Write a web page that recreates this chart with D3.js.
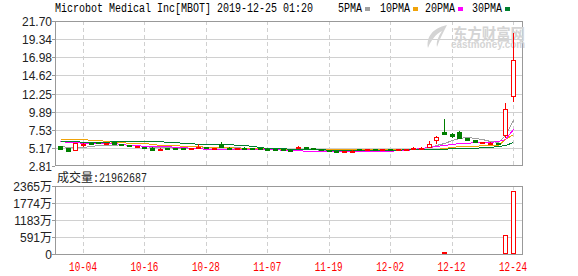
<!DOCTYPE html>
<html>
<head>
<meta charset="utf-8">
<script src="https://cdn.jsdelivr.net/npm/d3@7"></script>
<style>
body { margin: 0; background: #fff; }
svg { display: block; }
</style>
</head>
<body>
<div id="container"></div>
<script>
// trading days Oct 1 - Dec 24, 2019
var dates = ["10-01","10-02","10-03","10-04","10-07","10-08","10-09","10-10","10-11","10-14",
  "10-15","10-16","10-17","10-18","10-21","10-22","10-23","10-24","10-25","10-28",
  "10-29","10-30","10-31","11-01","11-04","11-05","11-06","11-07","11-08","11-11",
  "11-12","11-13","11-14","11-15","11-18","11-19","11-20","11-21","11-22","11-25",
  "11-26","11-27","11-29","12-02","12-03","12-04","12-05","12-06","12-09","12-10",
  "12-11","12-12","12-13","12-16","12-17","12-18","12-19","12-20","12-23","12-24"]
var open  = [5.40,5.10,4.80,5.58,5.75,5.92,5.80,5.98,5.70,5.55, 5.35,5.32,5.22,5.00,5.10,5.15,5.20,5.12,5.25,5.25,
             5.12,5.70,5.22,5.18,5.20,5.12,5.10,5.08,5.05,5.02, 4.95,5.15,5.25,5.15,5.02,4.90,4.75,4.70,4.80,5.02,
             4.98,5.00,4.97,4.99,4.96,4.98,5.00,5.02,5.20,6.15, 7.20,7.00,7.28,6.40,6.20,5.80,5.78,5.80,6.85,11.97]
var high  = [5.45,5.12,5.80,5.85,5.80,5.95,5.85,6.00,5.72,5.60, 5.45,5.35,5.25,5.10,5.15,5.18,5.22,5.18,5.70,5.28,
             5.20,5.90,5.26,5.22,5.24,5.15,5.13,5.10,5.08,5.05, 4.97,5.45,5.28,5.18,5.05,4.92,4.78,4.75,4.85,5.05,
             5.02,5.03,5.00,5.02,5.00,5.05,5.30,5.35,6.10,6.70, 8.90,7.05,7.40,6.45,6.25,5.95,5.90,5.82,11.06,20.18]
var low   = [5.00,4.65,4.78,5.30,5.65,5.85,5.70,5.65,5.62,5.45, 5.30,5.25,4.85,4.95,5.05,5.08,5.08,5.10,5.20,5.18,
             5.10,5.25,5.18,5.15,5.12,5.08,5.06,5.03,5.00,4.98, 4.88,5.00,5.20,5.10,4.98,4.75,4.62,4.62,4.78,4.95,
             4.94,4.96,4.94,4.95,4.94,4.96,4.98,5.00,5.15,5.65, 6.85,6.40,6.50,6.15,5.85,5.78,5.76,5.70,6.50,11.10]
var close = [5.05,4.70,5.77,5.62,5.70,5.88,5.82,5.68,5.66,5.50, 5.42,5.28,4.90,5.05,5.08,5.12,5.10,5.15,5.30,5.22,
             5.18,5.28,5.20,5.20,5.15,5.10,5.08,5.05,5.04,5.00, 4.90,5.30,5.22,5.12,5.00,4.78,4.65,4.72,4.82,4.98,
             5.00,4.98,4.99,4.97,4.98,5.02,5.18,5.18,5.65,6.60, 7.00,6.80,6.50,6.20,5.90,5.88,5.84,5.75,10.20,16.62]
// volume in 万 shares
var volume = [22,35,48,20,12,10,8,15,9,11, 14,10,25,12,8,7,10,6,18,9,
              8,16,7,6,9,8,6,5,7,6, 9,12,8,6,5,10,11,8,6,7,
              5,6,5,6,7,8,10,12,28,45, 72,38,30,18,15,9,8,7,661,2196.27]
var ma5  = [5.45,5.35,5.30,5.35,5.40,5.55,5.60,5.60,5.65,5.60, 5.50,5.45,5.35,5.30,5.25,5.20,5.15,5.15,5.20,5.25,
            5.30,5.35,5.30,5.25,5.20,5.15,5.10,5.05,5.05,5.00, 4.95,4.95,5.00,5.00,4.95,4.90,4.85,4.85,4.85,4.90,
            4.90,4.95,4.95,4.95,4.95,5.00,5.05,5.10,5.25,5.50, 5.85,6.20,6.50,6.60,6.50,6.30,6.10,5.90,6.90,8.80]
var ma10 = [6.30,6.30,6.35,6.35,6.20,6.15,6.05,6.00,5.90,5.80, 5.80,5.75,5.65,5.60,5.55,5.50,5.45,5.42,5.40,5.35,
            5.30,5.28,5.25,5.22,5.20,5.18,5.15,5.12,5.10,5.06, 5.02,5.00,5.00,5.00,4.99,4.99,4.99,4.99,4.99,4.99,
            4.99,4.99,4.99,4.99,4.99,4.99,5.00,5.02,5.05,5.08, 5.15,5.25,5.40,5.45,5.45,5.50,5.55,5.60,6.33,6.94]
var ma20 = [6.05,6.00,5.95,5.85,5.80,5.77,5.77,5.75,5.70,5.60, 5.50,5.40,5.37,5.37,5.37,5.35,5.30,5.20,5.10,5.06,
            5.06,5.06,5.05,5.02,5.00,5.00,5.00,5.00,4.98,4.95, 4.90,4.85,4.82,4.80,4.78,4.76,4.75,4.75,4.75,4.75,
            4.75,4.76,4.78,4.82,4.88,4.95,5.00,5.10,5.25,5.40, 5.55,5.70,5.77,5.80,5.90,5.98,6.00,6.10,6.33,7.60]
var ma30 = [6.10,6.10,6.10,6.00,5.98,5.98,5.98,6.07,6.07,6.07, 6.07,6.07,6.07,6.05,6.00,5.90,5.80,5.75,5.72,5.72,
            5.72,5.72,5.70,5.60,5.50,5.40,5.30,5.20,5.15,5.10, 5.05,5.00,5.00,4.98,4.96,4.95,4.95,4.95,4.95,4.95,
            4.95,4.95,4.95,4.95,4.95,4.96,4.97,4.98,5.00,5.02, 5.05,5.10,5.15,5.20,5.20,5.25,5.30,5.40,5.55,5.90]
var priceTicks = [21.70,19.34,16.98,14.62,12.25,9.89,7.53,5.17,2.81]
var volTicks = [2365,1774,1183,591,0]
var volTickLabels = ["2365万","1774万","1183万","591万","0"]
var dateTicks = ["10-04","10-16","10-28","11-07","11-19","12-02","12-12","12-24"]
var maNames = ["5PMA","10PMA","20PMA","30PMA"]
var maColors = ["#a0a0a0","#f0a30a","#ff00ff","#007f2f"]
var title = "Microbot Medical Inc[MBOT] 2019-12-25 01:20"
var lastVolume = "21962687"

var ancho = 578, alto = 276
var left = 55, right = 522
var red = "#ff0000", green = "#007f00"

var svg = d3.select("#container").append("svg")
  .attr("width", ancho).attr("height", alto)
  .style("font-family", "'Liberation Sans', Arial, 'Noto Sans CJK SC', sans-serif")

var x = d3.scalePoint().domain(dates).range([60, 513])
var y = d3.scaleLinear().domain([2.81, 21.70]).range([166, 21])
var yv = d3.scaleLinear().domain([0, 2365]).range([254, 186])

// title + legend
svg.append("text").attr("x", 55).attr("y", 12)
  .attr("font-family", "'Liberation Mono', monospace").attr("font-size", 12)
  .attr("textLength", 258).attr("lengthAdjust", "spacingAndGlyphs")
  .text(title)
var legX = [338, 380, 425, 472]
maNames.forEach(function(n, i){
  svg.append("text").attr("x", legX[i]).attr("y", 12)
    .attr("font-family", "'Liberation Mono', monospace").attr("font-size", 12)
    .attr("textLength", n.length * 6).attr("lengthAdjust", "spacingAndGlyphs")
    .text(n)
  svg.append("rect").attr("x", legX[i] + n.length * 6 + 3).attr("y", 7)
    .attr("width", 5).attr("height", 4).attr("fill", maColors[i])
})

function panel(top, bottom, scale, ticks, labels) {
  var g = svg.append("g")
  g.selectAll(".h").data(ticks.slice(1, -1)).enter().append("line")
    .attr("x1", left).attr("x2", right)
    .attr("y1", function(d){ return Math.round(scale(d)) + 0.5 })
    .attr("y2", function(d){ return Math.round(scale(d)) + 0.5 })
    .attr("stroke", "#d0d0d0")
  g.selectAll(".v").data(dateTicks).enter().append("line")
    .attr("x1", function(d){ return Math.round(x(d)) + 0.5 })
    .attr("x2", function(d){ return Math.round(x(d)) + 0.5 })
    .attr("y1", top).attr("y2", bottom)
    .attr("stroke", "#d0d0d0").attr("stroke-dasharray", "4,3")
  g.append("rect").attr("x", left + 0.5).attr("y", top + 0.5)
    .attr("width", right - left).attr("height", bottom - top)
    .attr("fill", "none").attr("stroke", "#999")
  g.selectAll(".t").data(ticks).enter().append("text")
    .attr("x", 52).attr("y", function(d){ return scale(d) + 5 })
    .attr("text-anchor", "end").attr("font-size", 12).attr("fill", "#222")
    .text(function(d, i){ return labels[i] })
  g.selectAll(".tk").data(ticks).enter().append("line")
    .attr("x1", 52).attr("x2", left)
    .attr("y1", function(d){ return Math.round(scale(d)) + 0.5 })
    .attr("y2", function(d){ return Math.round(scale(d)) + 0.5 })
    .attr("stroke", "#999")
}
panel(21, 165, y, priceTicks, priceTicks.map(function(d){ return d.toFixed(2) }))
panel(186, 254, yv, volTicks, volTickLabels)

// watermark
var wm = svg.append("g").attr("fill", "#d4d4d4")
wm.append("path")
  .attr("d", "M447,25 C432,28 426,38 428,48 C431,40 436,34 442,31 C438,37 436,42 437,47 C440,38 444,31 447,25 Z")
wm.append("text").attr("x", 453).attr("y", 40).attr("font-size", 16).attr("font-weight", "bold")
  .attr("font-family", "'Noto Sans CJK SC', sans-serif")
  .attr("textLength", 72).attr("lengthAdjust", "spacingAndGlyphs").text("东方财富网")
wm.append("text").attr("x", 451).attr("y", 48).attr("font-size", 10).attr("font-weight", "bold")
  .attr("textLength", 74).attr("lengthAdjust", "spacingAndGlyphs").text("eastmoney.com")

var defs = svg.append("defs")
defs.append("clipPath").attr("id", "clipP").append("rect")
  .attr("x", left + 1).attr("y", 22).attr("width", right - left - 1).attr("height", 143)

// MA lines
var plot = svg.append("g").attr("clip-path", "url(#clipP)")
;[ma5, ma10, ma20, ma30].forEach(function(arr, k){
  var line = d3.line()
    .x(function(d, i){ return Math.round(x(dates[i])) + 0.5 })
    .y(function(d){ return Math.round(y(d)) + 0.5 })
  plot.append("path").datum(arr).attr("d", line)
    .attr("fill", "none").attr("stroke", maColors[k]).attr("stroke-width", 1)
    .attr("shape-rendering", "crispEdges")
})

// candles
var cw = 4
var cdata = dates.map(function(d, i){
  return {d: d, o: open[i], h: high[i], l: low[i], c: close[i], v: volume[i],
          up: close[i] >= open[i], vup: i === 0 ? close[i] >= open[i] : close[i] >= close[i-1]}
})
var cand = plot.selectAll(".c").data(cdata).enter().append("g")
  .attr("shape-rendering", "crispEdges")
cand.append("line")
  .attr("x1", function(d){ return Math.round(x(d.d)) + 0.5 })
  .attr("x2", function(d){ return Math.round(x(d.d)) + 0.5 })
  .attr("y1", function(d){ return Math.round(y(d.h)) })
  .attr("y2", function(d){ return Math.round(y(d.l)) })
  .attr("stroke", function(d){ return d.up ? red : green })
cand.append("rect")
  .attr("x", function(d){ return Math.round(x(d.d)) - cw / 2 + 0.5 })
  .attr("y", function(d){ return Math.round(y(Math.max(d.o, d.c))) + 0.5 })
  .attr("width", cw)
  .attr("height", function(d){ return Math.max(1, Math.round(Math.abs(y(d.o) - y(d.c)))) })
  .attr("fill", function(d){ return d.up ? "#fff" : green })
  .attr("stroke", function(d){ return d.up ? red : green })

// volume bars
svg.append("g").selectAll("rect").data(cdata).enter().append("rect")
  .attr("shape-rendering", "crispEdges")
  .attr("x", function(d){ return Math.round(x(d.d)) - cw / 2 + 0.5 })
  .attr("y", function(d){ return Math.round(yv(d.v)) + 0.5 })
  .attr("width", cw)
  .attr("height", function(d){ return Math.max(0, Math.round(yv(0) - yv(d.v)) - 1) })
  .attr("fill", function(d){ return d.vup ? "#fff" : green })
  .attr("stroke", function(d){ return d.vup ? red : green })

// volume caption
var cap = svg.append("text").attr("x", 57).attr("y", 182).attr("font-size", 12).attr("fill", "#222")
cap.append("tspan").attr("font-family", "'Noto Sans CJK SC', sans-serif").text("成交量")
cap.append("tspan").attr("font-family", "'Liberation Mono', monospace")
  .attr("textLength", 54).attr("lengthAdjust", "spacingAndGlyphs").text(":" + lastVolume)

// date labels
svg.append("g").selectAll("text").data(dateTicks).enter().append("text")
  .attr("x", function(d){ return x(d) - 14 }).attr("y", 271)
  .attr("font-family", "'Liberation Mono', monospace").attr("font-size", 12)
  .attr("textLength", 28).attr("lengthAdjust", "spacingAndGlyphs")
  .attr("fill", red).text(function(d){ return d })
</script>
</body>
</html>
